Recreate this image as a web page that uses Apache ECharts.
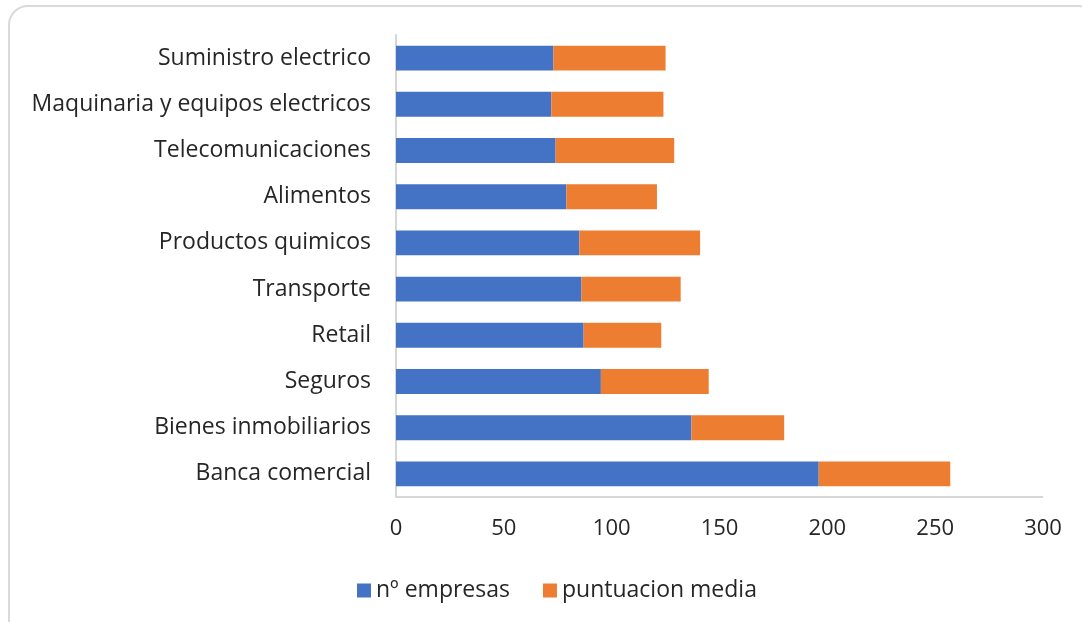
<!DOCTYPE html>
<html>
<head>
<meta charset="utf-8">
<script src="https://cdn.jsdelivr.net/npm/echarts@6/dist/echarts.min.js"></script>
<style>
  html, body { margin: 0; padding: 0; background: #fff; overflow: hidden; }
  #frame {
    position: absolute; left: 8px; top: 5px; width: 1090px; height: 640px;
    border: 2px solid #dadada; border-radius: 20px; box-sizing: border-box;
  }
  #chart { position: absolute; left: 0; top: 0; width: 1082px; height: 622px; }
</style>
</head>
<body>
<div id="frame"></div>
<div id="chart"></div>
<script>
// Sectors, listed from the bottom bar to the top bar
const sectors = [
  'Banca comercial',
  'Bienes inmobiliarios',
  'Seguros',
  'Retail',
  'Transporte',
  'Productos quimicos',
  'Alimentos',
  'Telecomunicaciones',
  'Maquinaria y equipos electricos',
  'Suministro electrico'
];
// Number of companies per sector
const numEmpresas = [196, 137, 95, 87, 86, 85, 79, 74, 72, 73];
// Average score per sector (stacked after the company count)
const puntuacionMedia = [61, 43, 50, 36, 46, 56, 42, 55, 52, 52];
const xTicks = { min: 0, max: 300, interval: 50 };

const font = '"Open Sans", "Noto Sans", sans-serif';
const textColor = '#262626';

const chart = echarts.init(document.getElementById('chart'), null, { renderer: 'canvas' });
chart.setOption({
  animation: false,
  backgroundColor: 'transparent',
  grid: { left: 396, right: 39, top: 35, bottom: 125, containLabel: false },
  legend: {
    left: 352, top: 574,
    itemWidth: 14, itemHeight: 14, itemGap: 33,
    icon: 'rect',
    textStyle: { fontFamily: font, fontSize: 23, color: textColor },
    data: ['nº empresas', 'puntuacion media']
  },
  xAxis: {
    type: 'value',
    min: xTicks.min, max: xTicks.max, interval: xTicks.interval,
    axisLine: { show: false },
    axisTick: { show: false },
    splitLine: { show: false },
    axisLabel: { fontFamily: font, fontSize: 22, color: textColor, margin: 21 }
  },
  yAxis: {
    type: 'category',
    data: sectors,
    axisLine: { show: true, lineStyle: { color: '#d6d6d6', width: 2 } },
    axisTick: { show: false },
    axisLabel: { fontFamily: font, fontSize: 23, color: textColor, margin: 25 }
  },
  graphic: [{
    type: 'line',
    z: 10,
    shape: { x1: 395, y1: 497, x2: 1043, y2: 497 },
    style: { stroke: '#d6d6d6', lineWidth: 2 }
  }],
  series: [
    {
      name: 'nº empresas', type: 'bar', stack: 'total',
      data: numEmpresas, barCategoryGap: '46%',
      itemStyle: { color: '#4472C4' }
    },
    {
      name: 'puntuacion media', type: 'bar', stack: 'total',
      data: puntuacionMedia, barCategoryGap: '46%',
      itemStyle: { color: '#ED7D31' }
    }
  ]
});
</script>
</body>
</html>
